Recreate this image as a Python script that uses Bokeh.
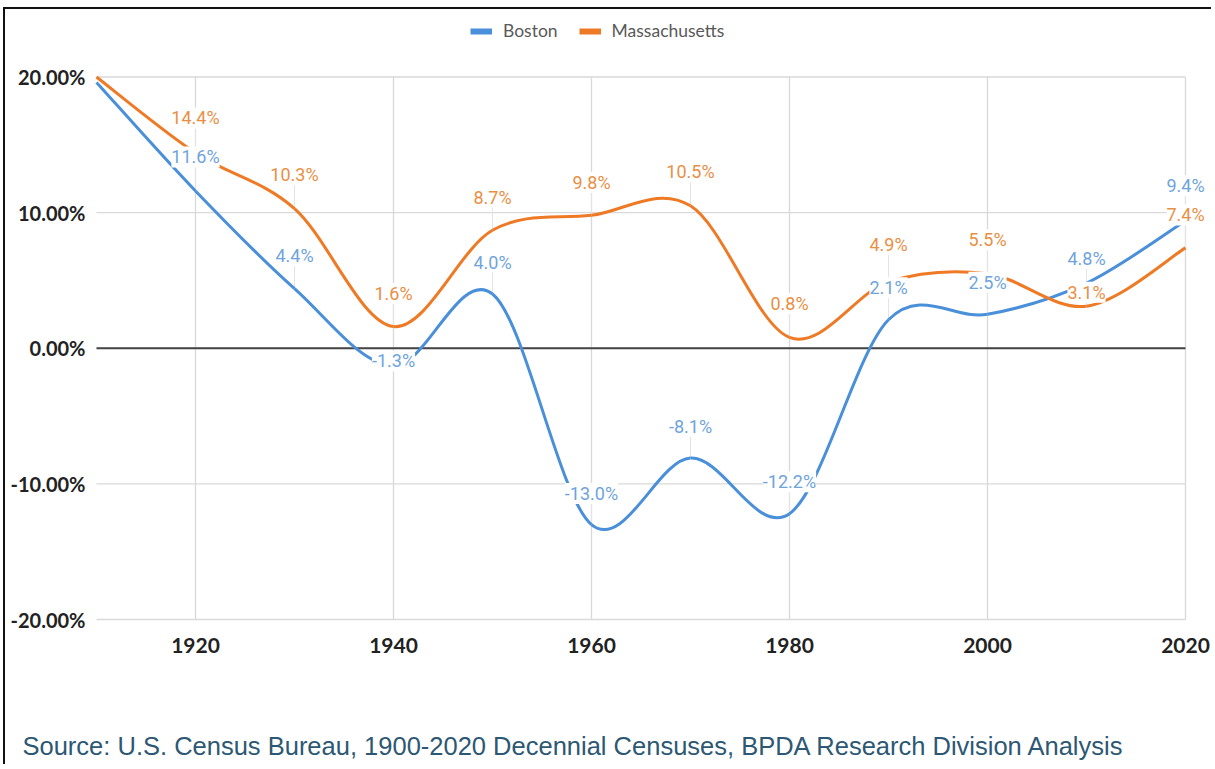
from bokeh.plotting import figure
from bokeh.models import (Range1d, FixedTicker, PrintfTickFormatter, Legend, LegendItem,
                          LabelSet, Label, ColumnDataSource)
from bokeh.core.properties import value
from bokeh.embed import file_html
from bokeh.resources import INLINE

# ---------------- data ----------------
years = [1910, 1920, 1930, 1940, 1950, 1960, 1970, 1980, 1990, 2000, 2010, 2020]
boston = [19.6, 11.6, 4.4, -1.3, 4.0, -13.0, -8.1, -12.2, 2.1, 2.5, 4.8, 9.4]
massachusetts = [20.0, 14.4, 10.3, 1.6, 8.7, 9.8, 10.5, 0.8, 4.9, 5.5, 3.1, 7.4]
series_names = ["Boston", "Massachusetts"]
x_ticks = [1920, 1940, 1960, 1980, 2000, 2020]
y_ticks = [-20, -10, 0, 10, 20]
source_note = "Source: U.S. Census Bureau, 1900-2020 Decennial Censuses, BPDA Research Division Analysis"

# label placement (pixels above the point), for 1920..2020
boston_label_dy = [34, 33, 5, 32, 31, 32, 32, 32, 32, 25, 35]
mass_label_dy = [35, 34, 33, 33, 33, 34, 34, 37, 34, 14, 33]

BLUE_LINE, BLUE_TEXT = "#4a8fd9", "#6fa4dc"
ORANGE_LINE, ORANGE_TEXT = "#ef7a25", "#e98f45"
GRID = "#d9d9d9"

# ---------------- layout (canvas pixels) ----------------
CANVAS_W, CANVAS_H = 1208, 757
BOX_L, BOX_R, BOX_T, BOX_B = 91, 1180, 67.5, 610   # where the data box sits in the canvas


def smooth_segments(xs, ys):
    """Catmull-Rom spline through the data points, as cubic Bezier segments."""
    n = len(xs)
    d = dict(x0=[], y0=[], x1=[], y1=[], cx0=[], cy0=[], cx1=[], cy1=[])
    for i in range(n - 1):
        pm, pp = max(i - 1, 0), min(i + 2, n - 1)
        d["x0"].append(xs[i]); d["y0"].append(ys[i])
        d["x1"].append(xs[i + 1]); d["y1"].append(ys[i + 1])
        d["cx0"].append(xs[i] + (xs[i + 1] - xs[pm]) / 6.0)
        d["cy0"].append(ys[i] + (ys[i + 1] - ys[pm]) / 6.0)
        d["cx1"].append(xs[i + 1] - (xs[pp] - xs[i]) / 6.0)
        d["cy1"].append(ys[i + 1] - (ys[pp] - ys[i]) / 6.0)
    return ColumnDataSource(d)


x_lo, x_hi = years[0], years[-1]
y_lo, y_hi = y_ticks[0], y_ticks[-1]
kx = (x_hi - x_lo) / (BOX_R - BOX_L)
ky = (y_hi - y_lo) / (BOX_B - BOX_T)
x_range = Range1d(x_lo - BOX_L * kx, x_hi + (CANVAS_W - BOX_R) * kx)
y_range = Range1d(y_lo - (CANVAS_H - BOX_B) * ky, y_hi + BOX_T * ky)

p = figure(width=CANVAS_W, height=CANVAS_H, x_range=x_range, y_range=y_range,
           output_backend="svg", toolbar_location=None,
           min_border_left=0, min_border_right=0, min_border_top=0, min_border_bottom=0,
           background_fill_color="white", border_fill_color="white")
p.outline_line_color = None
p.xgrid.visible = False
p.ygrid.visible = False
p.styles = {"border-left": "2px solid #111", "border-top": "2px solid #111",
            "margin-left": "3px", "margin-top": "7px"}

# grid lines (limited to the data box)
p.segment(x0=x_ticks, x1=x_ticks, y0=[y_lo] * len(x_ticks), y1=[y_hi] * len(x_ticks),
          line_color=GRID, line_width=1.3)
p.segment(x0=[x_lo] * len(y_ticks), x1=[x_hi] * len(y_ticks), y0=y_ticks, y1=y_ticks,
          line_color=GRID, line_width=1.3)
p.segment(x0=[x_lo], x1=[x_hi], y0=[0], y1=[0], line_color="#444444", line_width=2)

# faint leader lines from each data label down to its point
for vals, dys in ((boston, boston_label_dy), (massachusetts, mass_label_dy)):
    tops = [v + max(dy - 10, 0) * ky for v, dy in zip(vals[1:], dys)]
    p.segment(x0=years[1:], x1=years[1:], y0=vals[1:], y1=tops, line_color="#e4e4e4", line_width=1)

# axes, pinned to the edges of the data box
p.xaxis.ticker = FixedTicker(ticks=x_ticks)
p.yaxis.ticker = FixedTicker(ticks=y_ticks)
p.yaxis.formatter = PrintfTickFormatter(format="%.2f%%")
p.xaxis.fixed_location = y_lo
p.yaxis.fixed_location = x_lo
for ax in (p.xaxis[0], p.yaxis[0]):
    ax.axis_line_color = None
    ax.major_tick_line_color = None
    ax.minor_tick_line_color = None
    ax.major_tick_out = 0
    ax.major_tick_in = 0
    ax.major_label_text_font = "Lato"
    ax.major_label_text_font_style = "bold"
    ax.major_label_text_color = "#222222"
p.yaxis.major_label_text_font_size = "20px"
p.xaxis.major_label_text_font_size = "21px"
p.yaxis.major_label_standoff = 11
p.xaxis.major_label_standoff = 18

# lines
p.bezier(x0="x0", y0="y0", x1="x1", y1="y1", cx0="cx0", cy0="cy0", cx1="cx1", cy1="cy1",
         source=smooth_segments(years, boston), line_color=BLUE_LINE, line_width=3)
p.bezier(x0="x0", y0="y0", x1="x1", y1="y1", cx0="cx0", cy0="cy0", cx1="cx1", cy1="cy1",
         source=smooth_segments(years, massachusetts), line_color=ORANGE_LINE, line_width=3)

# data labels
for vals, dys, col in ((boston, boston_label_dy, BLUE_TEXT), (massachusetts, mass_label_dy, ORANGE_TEXT)):
    src = ColumnDataSource(dict(x=years[1:], y=vals[1:], dy=dys,
                                text=[f"{v:.1f}%" for v in vals[1:]]))
    p.add_layout(LabelSet(x="x", y="y", text="text", y_offset="dy", source=src,
                          text_align="center", text_baseline="middle",
                          text_font=value("Roboto"), text_font_size="18px", text_color=col,
                          background_fill_color="white"))

# legend (swatch renderers carry no visible data)
nan = float("nan")
r_b = p.line(x=[x_lo, x_lo], y=[nan, nan], line_color=BLUE_LINE, line_width=6)
r_m = p.line(x=[x_lo, x_lo], y=[nan, nan], line_color=ORANGE_LINE, line_width=6)
legend = Legend(items=[LegendItem(label=series_names[0], renderers=[r_b]),
                       LegendItem(label=series_names[1], renderers=[r_m])],
                orientation="horizontal", location=(465, CANVAS_H - 32), padding=0, margin=0,
                spacing=21, glyph_width=22, glyph_height=20, label_standoff=11,
                label_text_font="Lato", label_text_font_size="17.5px", label_text_color="#595959",
                border_line_color=None, background_fill_alpha=0)
p.add_layout(legend)

# source note
p.add_layout(Label(x=17, y=CANVAS_H - 736, x_units="screen", y_units="screen", text=source_note,
                   text_baseline="middle", text_align="left",
                   text_font="Liberation Sans", text_font_size="25.5px", text_color="#2d5873"))

open("out.html", "w").write(file_html(p, INLINE))
